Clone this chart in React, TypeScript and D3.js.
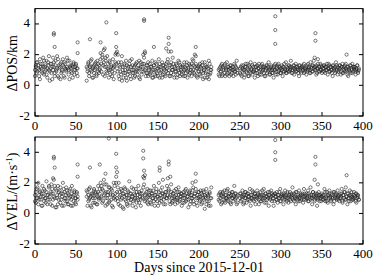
import * as d3 from 'd3'

type V = number | null
const N = null

const posA: V[] = [
  1.0,1.3,0.8,1.5,1.1,0.6,1.7,1.2,0.9,1.4,1.8,0.7,1.2,1.0,1.6,0.5,1.3,1.9,0.9,1.1,
  1.4,0.4,1.8,1.2,0.8,1.6,1.0,1.9,0.6,1.3,1.1,0.4,1.5,0.9,1.7,1.2,0.5,1.4,1.0,1.8,
  1.1,0.7,1.6,1.2,0.9,1.3,0.5,1.5,1.0,1.2,1.4,0.8,1.1,
  N,N,N,N,N,N,N,N,N,N,
  1.2,0.9,1.5,0.6,1.3,1.0,1.7,0.5,1.2,0.8,1.4,1.1,0.6,1.6,0.9,1.3,1.0,
  2.1,1.4,1.8,0.7,2.3,1.2,1.6,0.9,1.9,1.1,0.5,1.5,1.0,1.3,0.6,1.7,1.2,0.8,2.0,1.4,
  2.2,0.9,1.5,0.4,1.2,0.7,1.9,1.0,0.5,1.3,0.8,1.6,0.3,1.1,0.9,1.4,0.6,1.2,1.7,0.8,
  1.0,0.5,1.3,0.9,1.5,0.7,1.1,1.6,0.4,1.2,0.9,1.4,2.0,1.8,1.0,0.6,1.3,0.8,1.5,1.1,
  0.7,1.2,0.9,1.6,0.5,1.3,1.0,0.6,1.4,0.8,1.1,1.7,0.5,1.2,0.9,1.5,0.7,1.3,1.0,0.6,
  1.4,1.1,0.8,2.2,1.3,0.6,1.5,1.0,1.8,0.7,1.2,0.9,1.4,0.5,1.1,1.6,0.8,1.3,1.0,0.7,
  1.2,0.9,1.5,0.6,1.1,1.3,0.5,1.0,1.4,0.8,1.2,0.6,1.7,1.0,1.3,0.7,1.9,1.1,0.5,1.2,
  0.9,1.4,0.6,1.1,1.3,0.4,1.0,1.5,0.8,1.2,0.5,1.1,1.6,0.7,1.0,1.2,
  N,N,N,N,N,N,N,N,
  1.0,0.6,1.2,0.9,1.4,0.7,1.1,1.3,0.6,1.0,1.5,0.8,1.2,0.9,1.3,0.7,1.1,1.0,0.6,1.4,0.9,1.2,1.6,0.8,
  N,N,
  1.1,0.7,1.3,0.9,1.0,0.5,1.2,1.4,0.8,1.1,0.6,1.3,0.9,1.5,1.0,0.7,1.2,0.9,1.4,0.8,
  1.0,1.3,0.6,1.1,0.9,1.2,0.7,1.4,1.0,0.8,1.2,0.6,1.1,1.3,0.9,1.5,0.7,1.0,1.2,0.8,
  1.1,0.5,1.3,1.0,0.9,1.2,0.7,1.4,1.0,0.8,1.1,1.3,0.6,1.2,0.9,1.0,1.5,0.8,1.1,1.3,
  0.9,1.2,1.6,0.8,1.0,1.3,0.7,1.1,1.4,0.9,1.2,1.0,0.6,1.3,1.1,0.8,1.2,1.0,1.4,0.9,
  1.1,0.7,1.3,1.0,1.2,0.8,1.5,1.1,0.9,1.3,1.6,1.0,1.2,0.7,1.1,1.4,0.9,1.2,1.0,1.3,
  0.8,1.1,1.3,0.9,1.2,1.0,1.4,0.7,1.1,1.3,0.9,1.2,1.0,0.6,1.3,1.1,0.8,1.5,1.0,1.2,
  0.9,1.3,1.1,0.7,1.2,1.4,0.8,1.0,1.3,1.1,0.9,1.2,0.6,1.0,1.3,0.8,1.1,1.4,0.9,1.2,
  1.0,0.7,1.1,1.3,0.9,1.0,
]

const posB: V[] = [
  0.6,1.2,1.5,0.9,1.3,1.0,0.4,1.4,1.1,0.8,1.2,1.6,0.9,1.3,0.7,1.1,1.5,1.0,0.3,1.4,
  0.8,1.2,1.0,1.5,0.6,1.3,0.9,1.1,1.7,0.5,1.2,1.4,0.8,1.0,1.3,0.6,1.5,1.1,0.9,1.2,
  1.6,1.0,0.4,1.3,1.1,0.8,1.2,1.4,0.7,1.0,1.3,1.1,0.6,
  N,N,N,N,N,N,N,N,N,N,
  0.3,1.1,1.4,0.8,1.2,1.6,0.9,1.1,0.5,1.3,1.0,1.5,0.7,1.2,1.4,0.8,1.1,
  1.7,0.9,2.0,1.3,1.5,0.6,1.8,1.2,0.8,1.4,1.0,1.6,0.7,1.2,0.9,1.1,0.4,1.3,1.5,2.1,
  1.1,2.0,0.6,1.3,0.9,1.5,0.3,1.2,0.8,1.4,1.0,0.5,1.3,0.7,1.2,0.9,1.6,0.4,1.0,1.3,
  0.8,1.2,0.6,1.4,1.0,0.9,1.3,0.5,1.1,1.5,0.7,1.2,0.9,1.4,2.2,1.1,0.8,1.3,0.6,1.0,
  1.4,0.8,1.2,0.5,1.0,1.3,0.7,1.5,0.9,1.1,0.6,1.2,1.4,0.8,1.0,0.5,1.3,1.1,0.7,1.2,
  0.9,1.5,1.7,1.0,0.6,1.3,0.8,1.2,1.0,1.4,0.5,1.1,0.9,1.3,0.7,1.0,1.5,0.6,1.2,0.9,
  1.3,0.6,1.0,1.2,0.8,1.5,0.9,1.1,0.7,1.3,1.0,1.4,0.9,1.6,0.8,1.2,1.4,0.6,1.1,0.9,
  1.3,0.7,1.2,0.9,1.5,0.8,1.1,0.5,1.3,0.9,1.2,0.7,0.4,1.4,0.8,1.0,
  N,N,N,N,N,N,N,N,
  0.7,1.1,0.9,1.3,0.6,1.2,1.0,0.8,1.4,1.1,0.7,1.2,1.0,0.6,1.1,1.3,0.8,1.2,1.0,0.9,1.3,0.7,1.1,1.0,
  N,N,
  0.8,1.2,0.6,1.1,1.3,1.0,0.7,1.2,0.9,1.4,1.0,0.6,1.2,0.8,1.1,1.3,0.9,1.0,0.5,1.2,
  1.2,0.8,1.1,1.4,0.7,1.0,1.3,0.9,1.2,1.1,0.6,1.0,1.3,0.8,1.2,1.0,1.1,0.7,1.3,1.0,
  0.8,1.2,1.0,1.4,0.7,1.1,1.3,0.9,1.2,1.1,0.8,1.0,1.2,0.9,1.4,1.1,0.8,1.2,1.0,0.9,
  1.3,1.0,1.1,1.2,0.8,1.1,1.3,1.0,0.9,1.2,1.1,0.8,1.3,1.0,0.9,1.2,1.1,1.3,0.8,1.1,
  1.0,1.2,0.9,1.4,1.1,1.0,0.8,1.2,1.3,0.9,1.1,1.2,1.0,1.3,0.8,1.1,1.2,0.9,1.4,1.0,
  1.2,0.9,1.1,1.3,0.8,1.2,1.0,1.1,1.4,0.9,1.2,1.0,0.8,1.3,1.1,1.0,1.2,0.9,1.3,0.7,
  1.1,1.0,1.3,0.9,1.2,0.8,1.1,1.2,0.9,1.4,1.0,0.7,1.2,1.1,0.9,1.3,1.0,0.8,1.2,1.1,
  1.2,0.9,1.0,1.3,0.8,1.1,
]

const posOut: [number, number][] = [
  [23,3.4],[23,3.3],[24,2.5],[52,2.8],[52,2.1],[67,3.0],[80,2.8],[85,2.4],[87,4.1],
  [99,3.4],[99,2.5],[133,4.3],[133,4.2],[134,2.1],[145,2.5],[160,2.4],[163,3.1],
  [163,2.7],[166,2.2],[196,2.5],[195,2.0],[293,4.5],[293,3.6],[293,2.7],[342,3.4],
  [342,2.9],[341,1.8],[380,2.0],[345,1.7],
]

const velA: V[] = [
  1.2,0.7,1.6,1.0,2.0,0.9,1.4,1.1,0.5,1.8,1.3,0.8,1.5,1.0,2.1,0.6,1.2,1.7,0.9,1.4,
  1.9,0.5,1.3,2.2,1.0,1.6,0.4,1.2,1.8,0.9,1.5,0.7,1.3,1.1,2.0,0.5,1.4,1.0,1.7,0.8,
  1.3,0.6,1.5,1.1,0.9,1.8,0.5,1.2,1.4,0.7,1.0,1.3,1.1,
  N,N,N,N,N,N,N,N,N,N,
  1.5,0.5,1.2,0.9,1.7,1.1,0.4,1.3,1.0,1.6,0.7,1.4,1.2,0.6,1.8,1.0,1.3,
  2.0,1.1,1.6,0.8,2.2,1.3,0.5,1.9,1.0,1.4,0.7,1.7,1.2,0.9,1.5,0.4,2.0,1.1,1.3,2.4,
  1.4,0.8,2.0,1.1,0.5,1.6,1.0,1.3,0.3,1.7,0.9,1.2,0.6,1.5,1.0,2.1,0.7,1.3,1.1,0.5,
  1.6,0.9,1.2,0.4,1.4,1.0,1.8,0.7,1.3,0.9,1.5,1.1,2.4,1.9,0.8,1.3,1.0,1.6,0.6,1.2,
  0.9,1.5,0.6,1.3,1.0,1.8,0.5,1.2,1.4,0.8,1.1,2.0,0.7,1.5,1.0,1.3,2.2,0.9,1.2,0.6,
  1.4,1.0,2.3,1.6,0.8,1.2,1.9,0.7,1.3,1.0,1.5,0.6,1.2,0.9,1.4,1.7,0.8,1.1,1.3,0.5,
  1.0,1.4,0.7,1.2,1.6,0.9,1.1,0.4,1.3,1.5,0.8,1.2,1.0,1.7,0.6,1.3,2.1,1.0,0.5,1.4,
  1.1,0.8,1.5,0.6,1.2,1.0,1.4,0.3,1.1,1.6,0.8,1.2,0.5,1.3,1.0,1.7,
  N,N,N,N,N,N,N,N,
  1.2,0.8,1.4,0.6,1.1,1.3,0.9,1.5,0.7,1.2,1.0,1.6,0.8,1.3,1.1,0.6,1.4,1.0,1.2,1.8,0.9,1.3,1.1,0.7,
  N,N,
  1.3,0.8,1.1,1.5,0.6,1.2,1.0,1.4,0.7,1.3,1.1,0.9,1.6,0.5,1.2,1.0,1.4,0.8,1.3,1.1,
  0.9,1.5,1.2,0.6,1.1,1.4,0.8,1.2,1.0,1.6,0.7,1.3,1.1,0.9,1.4,0.5,1.2,1.0,1.5,0.8,
  1.2,0.5,1.3,1.1,0.9,1.4,0.7,1.2,1.0,1.6,0.8,1.3,1.1,0.6,1.2,1.5,0.9,1.0,1.3,0.7,
  1.1,1.4,0.8,1.2,1.7,0.9,1.3,1.0,0.6,1.4,1.1,0.8,1.5,1.0,1.2,0.9,1.3,0.7,1.6,1.1,
  0.9,1.3,1.0,1.5,0.8,1.2,1.7,1.0,0.6,1.4,1.1,0.9,1.3,1.2,0.5,1.0,1.4,0.8,1.2,1.1,
  1.3,0.9,1.2,1.6,0.8,1.0,1.4,0.7,1.2,1.5,1.0,0.8,1.3,1.1,0.6,1.4,1.0,1.2,0.9,1.5,
  1.1,0.8,1.3,1.0,1.6,0.7,1.2,1.4,0.9,1.7,1.1,0.6,1.3,1.0,1.5,0.8,1.2,1.1,0.9,1.4,
  1.0,1.3,0.7,1.2,1.1,0.9,
]

const velB: V[] = [
  0.8,1.4,1.0,1.7,0.6,1.2,1.5,0.9,1.3,0.5,1.1,1.6,1.0,0.7,1.4,1.2,0.9,1.8,1.1,0.6,
  1.3,1.6,0.9,1.1,1.8,0.4,1.5,1.0,0.6,1.4,1.2,1.7,0.9,0.5,1.3,1.6,1.0,0.8,1.2,1.5,
  0.6,1.2,1.0,1.6,0.5,1.3,1.1,0.8,1.5,1.0,0.6,1.4,0.9,
  N,N,N,N,N,N,N,N,N,N,
  1.1,1.4,0.8,1.6,1.0,0.5,1.3,1.2,0.7,1.5,1.0,1.3,0.6,1.1,1.4,0.9,1.6,
  1.0,1.8,0.7,1.5,1.2,1.9,1.0,1.4,0.6,1.2,1.7,0.8,1.3,1.6,0.5,1.2,1.0,1.8,0.9,2.0,
  1.0,1.7,0.6,1.4,1.2,0.9,1.5,0.4,1.3,1.1,1.6,0.8,1.2,0.5,1.4,1.0,1.3,0.9,1.7,1.1,
  0.8,1.3,1.0,1.6,0.7,1.2,0.9,1.4,1.1,0.5,1.3,1.0,1.7,2.3,1.2,0.9,1.4,0.7,1.1,1.5,
  1.2,0.7,1.3,1.0,1.5,0.8,1.2,0.9,1.6,1.1,0.5,1.4,1.0,1.2,0.8,1.7,1.3,0.6,1.1,1.4,
  1.0,1.8,1.2,1.5,1.1,0.6,1.4,1.0,0.8,1.3,1.1,0.9,1.6,1.0,0.7,1.2,1.4,0.9,1.1,1.3,
  0.7,1.2,1.0,1.5,0.8,1.3,1.1,0.9,1.4,0.6,1.2,1.0,1.5,0.8,1.1,1.3,1.6,0.7,1.2,1.0,
  1.4,0.9,1.1,1.3,0.7,1.5,0.9,1.2,1.0,0.6,1.3,1.1,0.8,1.4,0.5,1.0,
  N,N,N,N,N,N,N,N,
  0.9,1.3,1.0,1.2,0.7,1.4,1.1,0.8,1.2,1.0,1.5,0.9,1.1,1.3,0.7,1.2,1.0,1.4,0.8,1.1,1.3,1.0,0.6,1.2,
  N,N,
  1.0,1.3,0.9,1.2,1.1,0.7,1.4,1.0,1.2,0.9,1.3,1.1,0.8,1.2,1.0,1.5,0.9,1.1,1.3,0.6,
  1.1,1.0,1.3,0.9,1.2,0.8,1.1,1.5,0.9,1.2,1.0,1.3,0.7,1.1,1.0,1.2,1.4,0.9,1.1,1.3,
  1.0,1.2,0.8,1.3,1.1,0.9,1.2,1.0,1.4,0.8,1.1,1.2,1.0,1.3,0.9,1.1,1.2,0.8,1.4,1.0,
  1.2,0.9,1.1,1.3,1.0,1.2,0.8,1.1,1.4,1.0,0.9,1.2,1.1,0.8,1.3,1.0,1.2,1.1,0.9,1.3,
  1.2,1.0,1.1,0.8,1.3,1.1,0.9,1.2,1.0,1.4,1.2,0.8,1.1,1.0,1.3,0.9,1.2,1.1,1.0,0.8,
  1.1,1.2,0.9,1.0,1.4,1.1,0.8,1.2,1.0,1.3,1.1,0.9,1.2,1.0,1.4,0.8,1.1,1.3,1.0,1.2,
  0.9,1.2,1.0,1.1,1.3,0.8,1.2,1.0,1.4,0.9,1.1,1.3,1.0,0.8,1.2,1.1,1.4,0.9,1.0,1.2,
  1.1,0.8,1.3,1.0,1.2,0.9,
]

const velOut: [number, number][] = [
  [23,3.7],[23,3.6],[24,3.0],[22,2.3],[52,3.2],[52,2.4],[67,3.0],[79,3.2],[86,2.6],
  [90,4.9],[99,3.9],[99,3.0],[100,2.7],[132,4.1],[132,3.6],[133,2.8],[134,2.5],
  [152,3.0],[152,2.8],[163,3.4],[163,3.2],[165,2.4],[196,2.6],[192,2.0],[293,4.8],
  [293,4.0],[293,3.5],[342,3.7],[342,3.2],[341,2.2],[380,2.5],[345,1.9],
]

const xTicks = [0, 50, 100, 150, 200, 250, 300, 350, 400]
const yTicks = [-2, 0, 2, 4]

const FONT = '"Liberation Serif", "DejaVu Serif", serif'
const W = 383
const H = 279
const left = 35
const right = 363

function toPoints(series: V[][], out: [number, number][]) {
  const pts: [number, number][] = []
  series.forEach(s => s.forEach((v, i) => { if (v !== null) pts.push([i, v]) }))
  return pts.concat(out)
}

function Panel({ top, bottom, series, out, label }: {
  top: number; bottom: number; series: V[][]; out: [number, number][]; label: React.ReactNode
}) {
  const x = d3.scaleLinear().domain([0, 400]).range([left, right])
  const y = d3.scaleLinear().domain([-2, 5]).range([bottom, top])
  const pts = toPoints(series, out)
  const tk = 4
  return (
    <g>
      {pts.map(([d, v], i) => (
        <circle key={i} cx={x(d)} cy={y(v)} r={1.6} fill="none" stroke="#222" strokeWidth={0.6} />
      ))}
      <rect x={left} y={top} width={right - left} height={bottom - top} fill="none" stroke="#000" strokeWidth={1} />
      {xTicks.map(t => (
        <g key={t}>
          <line x1={x(t)} x2={x(t)} y1={bottom} y2={bottom - tk} stroke="#000" />
          <line x1={x(t)} x2={x(t)} y1={top} y2={top + tk} stroke="#000" />
          <text x={x(t)} y={bottom + 14} textAnchor="middle" fontSize={13} fontFamily={FONT}>{t}</text>
        </g>
      ))}
      {yTicks.map(t => (
        <g key={t}>
          <line x1={left} x2={left + tk} y1={y(t)} y2={y(t)} stroke="#000" />
          <line x1={right} x2={right - tk} y1={y(t)} y2={y(t)} stroke="#000" />
          <text x={left - 5} y={y(t) + 3.5} textAnchor="end" fontSize={13} fontFamily={FONT}>{t}</text>
        </g>
      ))}
      <text transform={`translate(17,${(top + bottom) / 2 + 1}) rotate(-90)`} textAnchor="middle" fontSize={14} fontFamily={FONT}>{label}</text>
    </g>
  )
}

export default function App() {
  return (
    <svg width={W} height={H} style={{ position: 'absolute', left: 0, top: 0, background: '#fff' }}>
      <Panel top={8.6} bottom={116} series={[posA, posB]} out={posOut} label="ΔPOS/km" />
      <Panel top={137} bottom={244} series={[velA, velB]} out={velOut}
        label={<>ΔVEL/(m·s<tspan dy={-5} fontSize={9}>-1</tspan><tspan dy={5}>)</tspan></>} />
      <text x={(left + right) / 2} y={272} textAnchor="middle" fontSize={14} fontFamily={FONT}>Days since 2015-12-01</text>
    </svg>
  )
}
